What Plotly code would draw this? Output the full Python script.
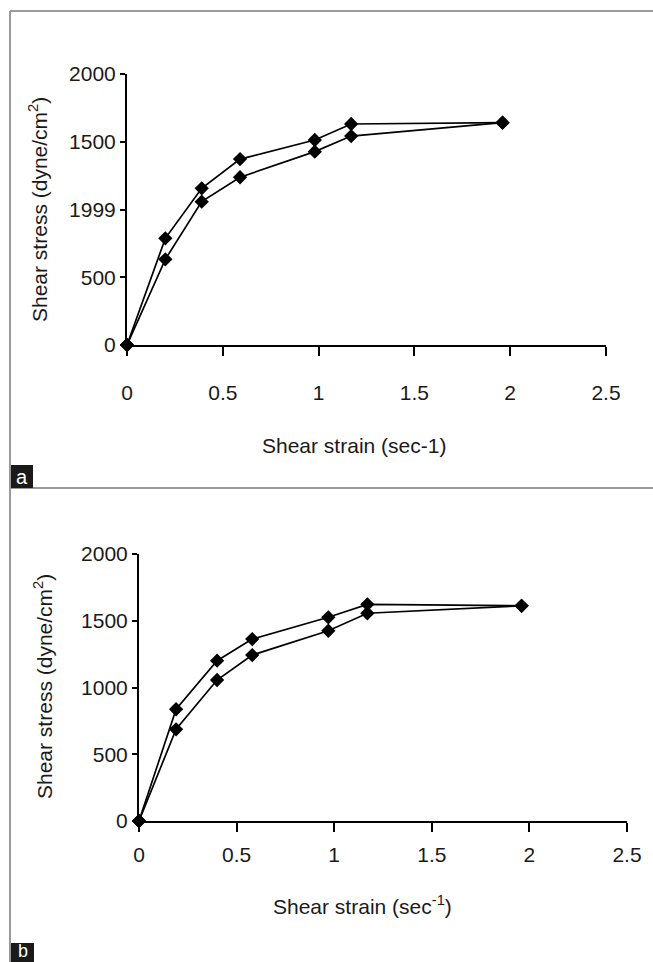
import plotly.graph_objects as go

W, H = 653, 962

# ---- data ----
strain_a = [0, 0.20, 0.39, 0.59, 0.98, 1.17, 1.96]
stress_a_upper = [0, 787, 1156, 1372, 1513, 1631, 1641]
stress_a_lower = [0, 632, 1058, 1238, 1427, 1542, 1641]

strain_b = [0, 0.19, 0.40, 0.58, 0.97, 1.17, 1.96]
stress_b_upper = [0, 837, 1201, 1363, 1526, 1623, 1612]
stress_b_lower = [0, 687, 1056, 1243, 1425, 1556, 1612]

x_ticks = [0, 0.5, 1, 1.5, 2, 2.5]
x_ticktext = ["0", "0.5", "1", "1.5", "2", "2.5"]
y_ticks = [0, 500, 1000, 1500, 2000]
y_ticktext_a = ["0", "500", "1999", "1500", "2000"]
y_ticktext_b = ["0", "500", "1000", "1500", "2000"]

FONT = "Liberation Sans, Arial, sans-serif"
TXT = "#1a1a1a"
FS = 21

def px(x):
    return x / W

def py(y):
    return 1 - y / H

fig = go.Figure()

line_style = dict(color="black", width=1.7)
marker_style = dict(symbol="diamond", size=11, color="black")

for ys in (stress_a_upper, stress_a_lower):
    fig.add_trace(go.Scatter(x=strain_a, y=ys, mode="lines+markers",
                             line=line_style, marker=marker_style,
                             xaxis="x", yaxis="y", cliponaxis=False,
                             showlegend=False))
for ys in (stress_b_upper, stress_b_lower):
    fig.add_trace(go.Scatter(x=strain_b, y=ys, mode="lines+markers",
                             line=line_style, marker=marker_style,
                             xaxis="x2", yaxis="y2", cliponaxis=False,
                             showlegend=False))

axis_common = dict(showgrid=False, zeroline=False, showline=True,
                   linecolor="black", linewidth=2, ticks="outside",
                   tickcolor="black", tickwidth=2, automargin=False,
                   tickfont=dict(family=FONT, size=FS, color=TXT),
                   fixedrange=True)

fig.update_layout(
    template="none",
    width=W, height=H, autosize=False,
    margin=dict(l=0, r=0, t=0, b=0, pad=0),
    paper_bgcolor="white", plot_bgcolor="white",
    xaxis=dict(domain=[px(127), px(606)], range=[0, 2.5],
               tickvals=x_ticks, ticktext=x_ticktext, ticklen=9,
               ticklabelstandoff=19, anchor="y", **axis_common),
    yaxis=dict(domain=[py(345), py(74)], range=[0, 2000],
               tickvals=y_ticks, ticktext=y_ticktext_a, ticklen=5,
               anchor="x", **axis_common),
    xaxis2=dict(domain=[px(139), px(627)], range=[0, 2.5],
                tickvals=x_ticks, ticktext=x_ticktext, ticklen=9,
                ticklabelstandoff=5, anchor="y2", **axis_common),
    yaxis2=dict(domain=[py(821), py(554)], range=[0, 2000],
                tickvals=y_ticks, ticktext=y_ticktext_b, ticklen=5,
                anchor="x2", **axis_common),
)

gray = "#9a9a9a"
shapes = [
    dict(type="line", xref="paper", yref="paper", x0=px(10), x1=px(10),
         y0=py(11), y1=py(962), line=dict(color=gray, width=2)),
    dict(type="line", xref="paper", yref="paper", x0=px(10), x1=1,
         y0=py(11), y1=py(11), line=dict(color=gray, width=2)),
    dict(type="line", xref="paper", yref="paper", x0=px(10), x1=1,
         y0=py(488), y1=py(488), line=dict(color=gray, width=2)),
    dict(type="rect", xref="paper", yref="paper", x0=px(11), x1=px(33),
         y0=py(488), y1=py(465), fillcolor="#1a1a1a", line=dict(width=0)),
    dict(type="rect", xref="paper", yref="paper", x0=px(11), x1=px(34),
         y0=py(962), y1=py(943), fillcolor="#1a1a1a", line=dict(width=0)),
]
fig.update_layout(shapes=shapes)

ann = [
    dict(text="Shear stress (dyne/cm<sup>2</sup>)", x=px(38), y=py(210),
         textangle=-90),
    dict(text="Shear strain (sec-1)", x=px(354), y=py(445)),
    dict(text="Shear stress (dyne/cm<sup>2</sup>)", x=px(43), y=py(687),
         textangle=-90),
    dict(text="Shear strain (sec<sup>-1</sup>)", x=px(362), y=py(905)),
]
annotations = []
for a in ann:
    d = dict(xref="paper", yref="paper", showarrow=False,
             xanchor="center", yanchor="middle",
             font=dict(family=FONT, size=FS, color=TXT))
    d.update(a)
    annotations.append(d)
annotations.append(dict(text="a", x=px(22), y=py(477), xref="paper", yref="paper",
                        showarrow=False, xanchor="center", yanchor="middle",
                        font=dict(family=FONT, size=20, color="white")))
annotations.append(dict(text="b", x=px(22.5), y=py(951), xref="paper", yref="paper",
                        showarrow=False, xanchor="center", yanchor="middle",
                        font=dict(family=FONT, size=18, color="white")))
fig.update_layout(annotations=annotations)

fig.write_html("out.html", config={"displayModeBar": False})
